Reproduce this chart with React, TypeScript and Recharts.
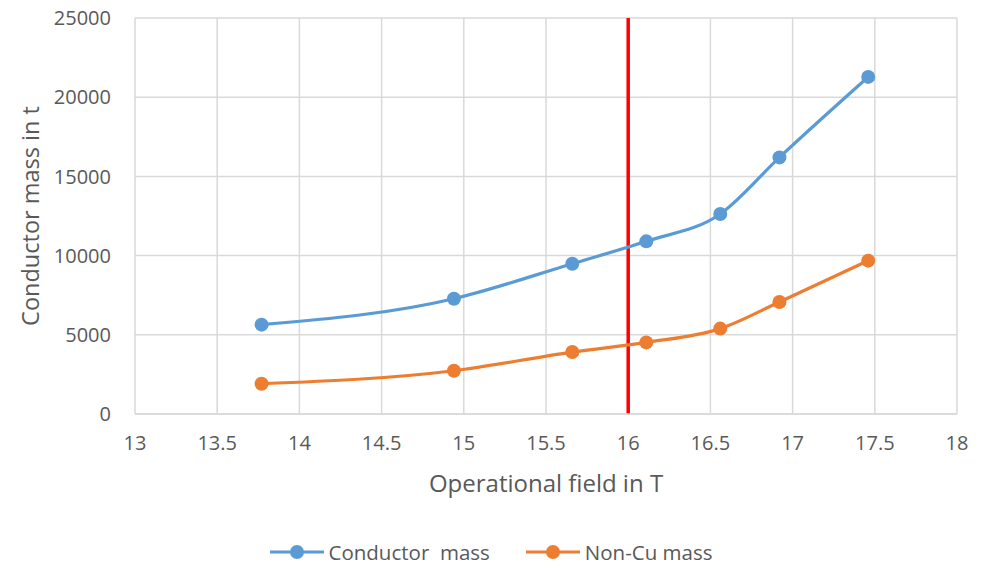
import React from "react";
import {
  LineChart,
  Line,
  XAxis,
  YAxis,
  CartesianGrid,
  ReferenceLine,
} from "recharts";

const fieldT = [13.77, 14.94, 15.66, 16.11, 16.56, 16.92, 17.46];
const conductorMass = [5640, 7280, 9490, 10900, 12630, 16200, 21280];
const nonCuMass = [1910, 2730, 3910, 4520, 5390, 7070, 9680];

const xTicks = [13, 13.5, 14, 14.5, 15, 15.5, 16, 16.5, 17, 17.5, 18];
const yTicks = [0, 5000, 10000, 15000, 20000, 25000];

const data = fieldT.map((x, i) => ({
  field: x,
  conductor: conductorMass[i],
  noncu: nonCuMass[i],
}));

const BLUE = "#5b9bd5";
const ORANGE = "#ed7d31";
const TEXT = "#595959";
const GRID = "#d9d9d9";
const FONT = "'Open Sans', sans-serif";

const legendItems = [
  { name: "Conductor  mass", color: BLUE },
  { name: "Non-Cu mass", color: ORANGE },
];

function LegendRow() {
  return (
    <div
      style={{
        position: "absolute",
        left: 0,
        top: 538,
        width: 982,
        display: "flex",
        justifyContent: "center",
        gap: 36,
        fontFamily: FONT,
        fontSize: 20.5,
        color: TEXT,
      }}
    >
      {legendItems.map((item) => (
        <div
          key={item.name}
          style={{ display: "flex", alignItems: "center", whiteSpace: "pre" }}
        >
          <svg width={54} height={28} style={{ marginRight: 5 }}>
            <line x1={0} y1={14} x2={54} y2={14} stroke={item.color} strokeWidth={3} />
            <circle cx={27} cy={14} r={7} fill={item.color} />
          </svg>
          <span>{item.name}</span>
        </div>
      ))}
    </div>
  );
}

export default function App() {
  return (
    <div style={{ position: "absolute", left: 0, top: 0, width: 982, height: 566 }}>
      <LineChart
        width={982}
        height={566}
        data={data}
        margin={{ top: 18, right: 25, left: 0, bottom: 0 }}
        style={{ fontFamily: FONT }}
      >
        <CartesianGrid stroke={GRID} strokeWidth={1.5} />
        <XAxis
          dataKey="field"
          type="number"
          domain={[13, 18]}
          ticks={xTicks}
          height={152}
          tickLine={false}
          tickSize={0}
          tickMargin={22}
          axisLine={{ stroke: GRID, strokeWidth: 1.5 }}
          tick={{ fill: TEXT, fontSize: 20 }}
          label={{
            value: "Operational field in T",
            position: "insideTop",
            offset: 61,
            fill: TEXT,
            fontSize: 24,
          }}
        />
        <YAxis
          type="number"
          domain={[0, 25000]}
          ticks={yTicks}
          width={135}
          tickLine={false}
          axisLine={false}
          tickSize={0}
          tickMargin={24}
          tick={{ fill: TEXT, fontSize: 20 }}
          label={{
            value: "Conductor mass in t",
            angle: -90,
            position: "insideLeft",
            offset: 31,
            fill: TEXT,
            fontSize: 23.5,
            style: { textAnchor: "middle" },
          }}
        />
        <ReferenceLine x={16} stroke="#ff0000" strokeWidth={3.5} />
        <Line
          type="monotone"
          dataKey="conductor"
          stroke={BLUE}
          strokeWidth={3.2}
          dot={{ r: 7, fill: BLUE, stroke: "none" }}
          activeDot={false}
          isAnimationActive={false}
        />
        <Line
          type="monotone"
          dataKey="noncu"
          stroke={ORANGE}
          strokeWidth={3.2}
          dot={{ r: 7, fill: ORANGE, stroke: "none" }}
          activeDot={false}
          isAnimationActive={false}
        />
      </LineChart>
      <LegendRow />
    </div>
  );
}
